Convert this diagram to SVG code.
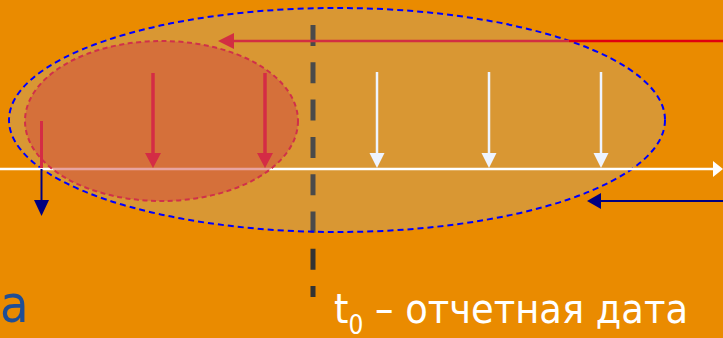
<svg xmlns="http://www.w3.org/2000/svg" width="723" height="338" viewBox="0 0 723 338">
<style>
.wt{fill:#FFFFFF;font-family:"DejaVu Sans Condensed","DejaVu Sans",sans-serif;font-stretch:condensed}
.warr{stroke:#EEF4FF;stroke-width:2.5}
.rarr{stroke:#D42C45;stroke-width:3.5}
</style>
<defs>
<clipPath id="bigclip"><ellipse cx="337" cy="120" rx="328" ry="112"/></clipPath>
</defs>
<rect width="723" height="338" fill="#EA8B00"/>
<g id="t0-line">
<line x1="313" y1="25" x2="313" y2="297" stroke="#333333" stroke-width="5" stroke-dasharray="21 16.3"/>
</g>
<g id="big-ellipse">
<ellipse cx="337" cy="120" rx="328" ry="112" fill="#D99733"/>
<line x1="313" y1="25" x2="313" y2="297" stroke="#4A4A4A" stroke-width="5" stroke-dasharray="21 16.3" clip-path="url(#bigclip)"/>
<ellipse cx="337" cy="120" rx="328" ry="112" fill="none" stroke="#0000FF" stroke-width="2" stroke-dasharray="6 4"/>
</g>
<g id="connectors">
<line x1="0" y1="169" x2="715" y2="169" stroke="#FFFFFF" stroke-width="2.5"/>
<polygon points="713,161 723,169 713,177" fill="#FFFFFF"/>
</g>
<g id="small-ellipse">
<ellipse cx="161.5" cy="121" rx="136.5" ry="80" fill="rgb(209,73,65)" fill-opacity="0.5" stroke="#D0304A" stroke-width="2" stroke-dasharray="5 3.5"/>
</g>
<g id="arrows">
<line x1="569" y1="41" x2="723" y2="41" stroke="#E0000F" stroke-width="2.5"/>
<line x1="230" y1="41" x2="569" y2="41" stroke="#D22E42" stroke-width="2.5"/>
<polygon points="218,41 234,33 234,49" fill="#D22E42"/>
<line class="rarr" x1="153" y1="73" x2="153" y2="155"/>
<polygon points="145,153 161,153 153,168" fill="#D42C45"/>
<line class="rarr" x1="265" y1="73" x2="265" y2="155"/>
<polygon points="257,153 273,153 265,168" fill="#D42C45"/>
<line x1="41.5" y1="121" x2="41.5" y2="168" stroke="#D42C45" stroke-width="3"/>
<line x1="41.5" y1="169" x2="41.5" y2="202" stroke="#000080" stroke-width="2"/>
<polygon points="34,200 49,200 41.5,216" fill="#000080"/>
<line class="warr" x1="377" y1="72" x2="377" y2="155"/>
<polygon points="369.5,153 384.5,153 377,168" fill="#EEF4FF"/>
<line class="warr" x1="489" y1="72" x2="489" y2="155"/>
<polygon points="481.5,153 496.5,153 489,168" fill="#EEF4FF"/>
<line class="warr" x1="601" y1="72" x2="601" y2="155"/>
<polygon points="593.5,153 608.5,153 601,168" fill="#EEF4FF"/>
<line x1="599" y1="201" x2="723" y2="201" stroke="#000080" stroke-width="2"/>
<polygon points="587,201 601,193 601,209" fill="#000080"/>
</g>
<g id="labels">
<text x="0" y="322" font-family="DejaVu Sans Condensed, DejaVu Sans, sans-serif" font-stretch="condensed" font-size="52" fill="#1F4E96">a</text>
<text class="wt" x="334" y="323" font-size="41">t<tspan font-size="26" dy="11">0</tspan><tspan dy="-11"> – отчетная дата</tspan></text>
</g>
</svg>
